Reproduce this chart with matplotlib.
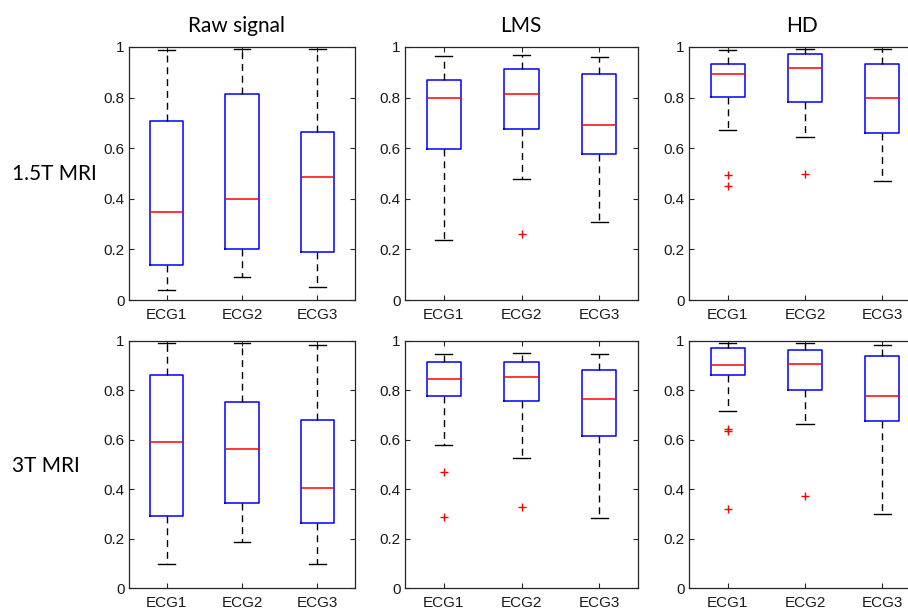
import matplotlib
matplotlib.use('Agg')
import matplotlib.pyplot as plt

# Group labels and panel headings
groups = ['ECG1', 'ECG2', 'ECG3']
col_titles = ['Raw signal', 'LMS', 'HD']
row_titles = ['1.5T MRI', '3T MRI']

# Five-number summaries per group: [lower whisker, q1, median, q3, upper whisker]
raw_15t = [[0.039, 0.137, 0.347, 0.708, 0.989],
           [0.089, 0.201, 0.400, 0.813, 0.993],
           [0.051, 0.189, 0.486, 0.663, 0.992]]
lms_15t = [[0.237, 0.595, 0.800, 0.870, 0.965],
           [0.480, 0.675, 0.816, 0.915, 0.967],
           [0.309, 0.579, 0.693, 0.895, 0.962]]
hd_15t = [[0.671, 0.801, 0.893, 0.934, 0.987],
          [0.645, 0.784, 0.918, 0.972, 0.993],
          [0.470, 0.661, 0.799, 0.932, 0.991]]
raw_3t = [[0.099, 0.290, 0.590, 0.864, 0.992],
          [0.185, 0.343, 0.563, 0.754, 0.992],
          [0.096, 0.263, 0.405, 0.680, 0.984]]
lms_3t = [[0.579, 0.776, 0.845, 0.915, 0.946],
          [0.525, 0.758, 0.854, 0.915, 0.951],
          [0.283, 0.617, 0.765, 0.881, 0.949]]
hd_3t = [[0.717, 0.861, 0.901, 0.972, 0.992],
         [0.663, 0.802, 0.907, 0.965, 0.992],
         [0.300, 0.676, 0.777, 0.939, 0.984]]

# Outliers per group
raw_15t_out = [[], [], []]
lms_15t_out = [[], [0.261], []]
hd_15t_out = [[0.496, 0.451], [0.497], []]
raw_3t_out = [[], [], []]
lms_3t_out = [[0.468, 0.286], [0.328], []]
hd_3t_out = [[0.645, 0.637, 0.318], [0.374], []]

yticks = [0, 0.2, 0.4, 0.6, 0.8, 1]
ytick_labels = ['0', '0.2', '0.4', '0.6', '0.8', '1']

panels = [[(raw_15t, raw_15t_out), (lms_15t, lms_15t_out), (hd_15t, hd_15t_out)],
          [(raw_3t, raw_3t_out), (lms_3t, lms_3t_out), (hd_3t, hd_3t_out)]]

W, H = 908, 608
fig = plt.figure(figsize=(W / 100, H / 100), dpi=100)

# axes boxes in pixels: (left, right) per column, (top, bottom) per row
# (the right column runs past the edge, as in the cropped original)
col_px = [(129, 355), (405, 638), (689, 921)]
row_px = [(47, 300), (341, 588)]

tick_font = {'family': ['Liberation Sans', 'DejaVu Sans'], 'size': 11}
head_font = ['Lato', 'DejaVu Sans']


def make_stats(summary, outliers):
    stats = []
    for s, out in zip(summary, outliers):
        stats.append({'whislo': s[0], 'q1': s[1], 'med': s[2],
                      'q3': s[3], 'whishi': s[4], 'fliers': out})
    return stats


for r, (top, bot) in enumerate(row_px):
    for c, (left, right) in enumerate(col_px):
        ax = fig.add_axes([left / W, 1 - bot / H, (right - left) / W, (bot - top) / H])
        summary, outliers = panels[r][c]
        ax.bxp(make_stats(summary, outliers), positions=[1, 2, 3], widths=0.44,
               showfliers=True,
               boxprops=dict(color='#0000FF', linewidth=1.1),
               medianprops=dict(color='#FF0000', linewidth=1.1),
               whiskerprops=dict(color='black', linewidth=1.0, linestyle=(0, (5, 3.5))),
               capprops=dict(color='black', linewidth=1.0),
               capwidths=0.22,
               flierprops=dict(marker='+', markeredgecolor='#FF0000',
                               markersize=6, linestyle='none'))
        ax.set_xlim(0.5, 3.5)
        ax.set_ylim(0, 1)
        ax.set_yticks(yticks)
        ax.set_yticklabels(ytick_labels, fontdict=tick_font)
        ax.set_xticks([1, 2, 3])
        ax.set_xticklabels(groups, fontdict=tick_font)
        ax.tick_params(direction='in', top=True, right=True, length=3.5,
                       width=0.8, color='#262626', labelcolor='#1a1a1a')
        ax.tick_params(axis='y', pad=3)
        ax.tick_params(axis='x', pad=6)
        for sp in ax.spines.values():
            sp.set_color('#262626')
            sp.set_linewidth(0.9)

# column headings
for c, title in enumerate(col_titles):
    cx = [236, 521, 802][c]
    fig.text(cx / W, 1 - 32 / H, title, ha='center', va='baseline',
             family=head_font, fontsize=15, color='black')

# row headings
for r, title in enumerate(row_titles):
    cy = [174, 466][r]
    fig.text(12 / W, 1 - cy / H, title, ha='left', va='center',
             family=head_font, fontsize=15, color='black')

fig.savefig('out.png', dpi=100, facecolor='white')
plt.close(fig)
